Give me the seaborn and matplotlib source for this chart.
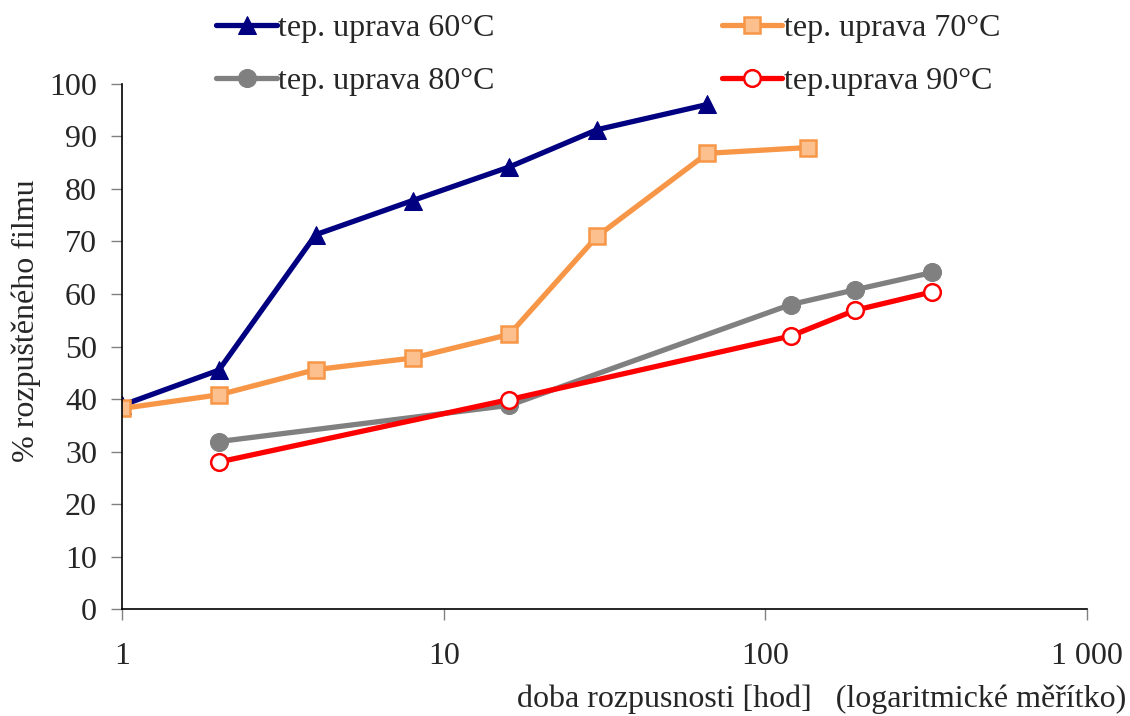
"""
Dissolution of film vs time for heat treatments (log scale).
"""

import numpy as np
import pandas as pd
import matplotlib
matplotlib.use("Agg")
import matplotlib.pyplot as plt
import seaborn as sns

# data
t_60 = [1, 2, 4, 8, 16, 30, 66]
p_60 = [38.8, 45.5, 71.3, 77.8, 84.2, 91.3, 96.1]
t_70 = [1, 2, 4, 8, 16, 30, 66, 136]
p_70 = [38.2, 40.8, 45.6, 47.8, 52.3, 71.0, 86.8, 87.9]
t_80 = [2, 16, 120, 190, 330]
p_80 = [31.9, 38.8, 58.0, 60.8, 64.1]
t_90 = [2, 16, 120, 190, 330]
p_90 = [28.0, 39.9, 52.0, 56.9, 60.4]

labels = ["tep. uprava 60°C", "tep. uprava 70°C",
          "tep. uprava 80°C", "tep.uprava 90°C"]


def main():
    sns.set_style("white")
    plt.rcParams['font.family'] = ['Liberation Serif', 'DejaVu Serif']

    fig = plt.figure(figsize=(11.3, 7.16), dpi=100)
    ax = fig.add_axes([0.108, 0.1494, 0.854, 0.7333])

    styles = [
        (t_60, p_60, dict(color="#000080", marker="^", markersize=13,
                          markerfacecolor="#000080", markeredgecolor="#000080")),
        (t_70, p_70, dict(color="#F79646", marker="s", markersize=12,
                          markerfacecolor="#FBC08E", markeredgecolor="#F79646",
                          markeredgewidth=1.8)),
        (t_80, p_80, dict(color="#808080", marker="o", markersize=13,
                          markerfacecolor="#808080", markeredgecolor="#808080")),
        (t_90, p_90, dict(color="#FF0000", marker="o", markersize=12,
                          markerfacecolor="white", markeredgecolor="#FF0000",
                          markeredgewidth=1.8)),
    ]
    handles = []
    for (t, p, st), lab in zip(styles, labels):
        df = pd.DataFrame({"t": t, "p": p})
        sns.lineplot(data=df, x="t", y="p", ax=ax, linewidth=3.8,
                     label=lab, **st)
        handles.append(ax.lines[-1])

    ax.set_xscale("log")
    ax.set_xlim(1, 1000)
    ax.set_ylim(0, 100)
    ax.set_xticks([1, 10, 100, 1000])
    ax.set_xticklabels(["1", "10", "100", "1 000"])
    ax.xaxis.set_minor_locator(matplotlib.ticker.NullLocator())
    ax.set_yticks(np.arange(0, 101, 10))

    for s in ["top", "right"]:
        ax.spines[s].set_visible(False)
    for s in ["left", "bottom"]:
        ax.spines[s].set_color("black")
        ax.spines[s].set_linewidth(1.2)
    ax.tick_params(axis="both", direction="out", length=8, width=1,
                   color="#808080", labelsize=23, bottom=True, left=True)
    ax.tick_params(axis="x", pad=16)
    ax.tick_params(axis="y", pad=10)

    ax.set_xlabel("")
    ax.set_ylabel("% rozpuštěného filmu", fontsize=23)
    ax.yaxis.set_label_coords(-0.084, 0.55)
    fig.text(0.997, 0.013,
             "doba rozpusnosti [hod]   (logaritmické měřítko)",
             ha="right", va="baseline", fontsize=23)

    ax.get_legend().remove()
    order = [0, 2, 1, 3]
    fig.legend([handles[i] for i in order], [labels[i] for i in order],
               ncol=2, loc="upper left", bbox_to_anchor=(0.180, 0.999),
               frameon=False, fontsize=23, handlelength=1.9,
               handletextpad=0.05, columnspacing=7.1, labelspacing=0.75,
               borderaxespad=0)

    fig.savefig("out.png", dpi=100)


if __name__ == "__main__":
    main()
